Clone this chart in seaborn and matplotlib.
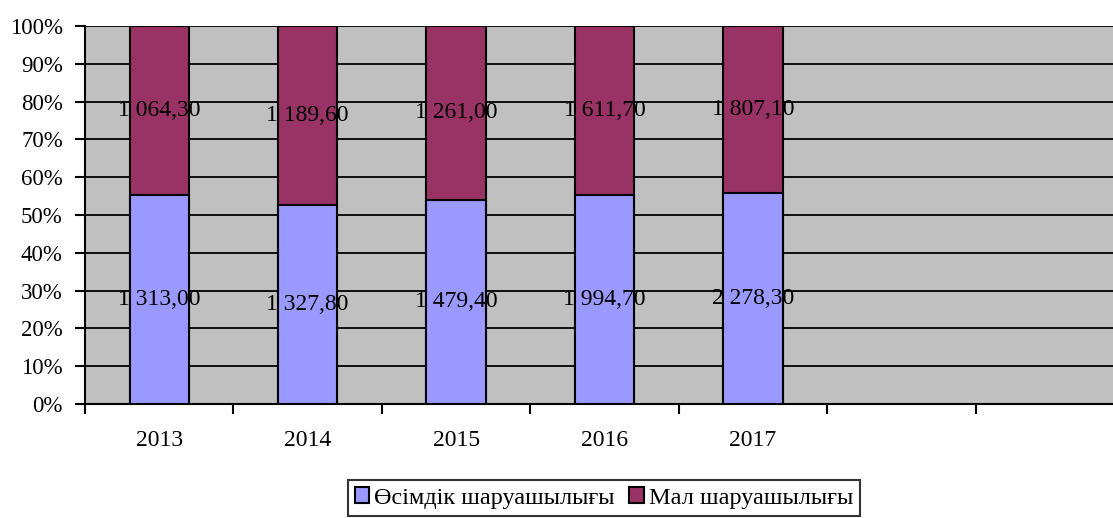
import pandas as pd
import matplotlib.pyplot as plt
import seaborn as sns

# values (stacked shares of two branches)
years = ['2013', '2014', '2015', '2016', '2017']
plant = [1313.00, 1327.80, 1479.40, 1994.70, 2278.30]
livestock = [1064.30, 1189.60, 1261.00, 1611.70, 1807.10]
plant_name = 'Өсімдік шаруашылығы'
livestock_name = 'Мал шаруашылығы'
n_slots = 7  # category axis has two empty slots after 2017

df = pd.DataFrame({'year': years, 'plant': plant, 'livestock': livestock})
df['total'] = df['plant'] + df['livestock']
df['plant_pct'] = df['plant'] / df['total'] * 100
df['full'] = 100.0

sns.set_style('white')
plt.rcParams['font.family'] = ['Liberation Serif', 'DejaVu Serif']
plt.rcParams['text.color'] = 'black'
plt.rcParams['xtick.color'] = 'black'
plt.rcParams['ytick.color'] = 'black'

def fmt(v):
    s = f"{v:,.2f}"
    return s.replace(',', ' ').replace('.', ',')

fig = plt.figure(figsize=(11.13, 5.18), dpi=100)
# plot area runs past the right edge of the picture, as in the original
ax = fig.add_axes([85 / 1113, 1 - 404 / 518, 1039 / 1113, 378 / 518])
ax.set_facecolor('#C0C0C0')

sns.barplot(data=df, x='year', y='full', color='#993366', width=0.4,
            edgecolor='black', linewidth=1.5, saturation=1, ax=ax, zorder=3)
sns.barplot(data=df, x='year', y='plant_pct', color='#9999FF', width=0.4,
            edgecolor='black', linewidth=1.5, saturation=1, ax=ax, zorder=3)

for i, row in df.iterrows():
    ax.text(i, row['plant_pct'] / 2, fmt(row['plant']), ha='center', va='center',
            fontsize=17, color='black', zorder=4)
    ax.text(i, (row['plant_pct'] + 100) / 2, fmt(row['livestock']), ha='center',
            va='center', fontsize=17, color='black', zorder=4)

ax.set_xlim(-0.5, n_slots - 0.5)
ax.set_ylim(0, 100)
ax.set_yticks(range(0, 101, 10))
ax.set_yticklabels([f"{t}%" for t in range(0, 101, 10)], fontsize=16.5)
ax.yaxis.grid(True, color='black', linewidth=1.3, zorder=1)
ax.set_axisbelow(True)

# ticks on slot boundaries, labels centred in slots
ax.set_xticks([i - 0.5 for i in range(n_slots + 1)])
ax.set_xticklabels([])
ax.set_xticks(range(len(years)), minor=True)
ax.set_xticklabels(years, minor=True, fontsize=17)
ax.tick_params(axis='x', which='major', direction='out', length=7, width=1.5,
               color='black', bottom=True)
ax.tick_params(axis='x', which='minor', length=0, pad=19, labelcolor='black')
ax.tick_params(axis='y', direction='out', length=7, width=1.5, color='black',
               left=True, pad=9, labelcolor='black')
ax.set_xlabel('')
ax.set_ylabel('')

for side in ['top', 'right']:
    ax.spines[side].set_visible(False)
for side in ['left', 'bottom']:
    ax.spines[side].set_color('black')
    ax.spines[side].set_linewidth(1.5)

handles = [plt.Rectangle((0, 0), 1, 1, facecolor='#9999FF', edgecolor='black', linewidth=1.5),
           plt.Rectangle((0, 0), 1, 1, facecolor='#993366', edgecolor='black', linewidth=1.5)]
leg = fig.legend(handles, [plant_name, livestock_name], loc='upper center',
                 bbox_to_anchor=(604 / 1113, 1 - 480 / 518), ncol=2, fontsize=17.5,
                 frameon=True, fancybox=False, handlelength=0.6, handleheight=0.6,
                 handletextpad=0.2, columnspacing=0.6, borderpad=0.3,
                 borderaxespad=0)
leg.get_frame().set_edgecolor('black')
leg.get_frame().set_linewidth(1.5)

plt.savefig('out.png', dpi=100)
